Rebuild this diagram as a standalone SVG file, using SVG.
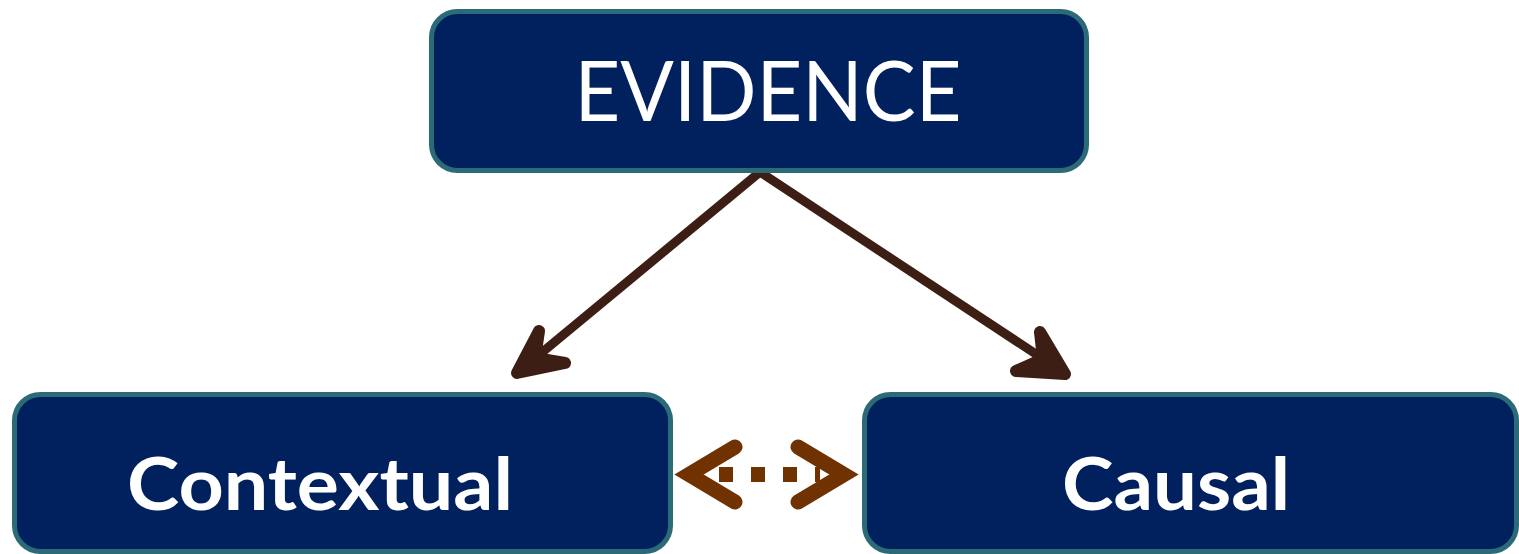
<svg xmlns="http://www.w3.org/2000/svg" width="1519" height="554" viewBox="0 0 1519 554">
<style>
.box{fill:#00205E;stroke:#2B6A77;stroke-width:5}
.lbl{fill:#FFFFFF;font-family:Lato,"Open Sans","Liberation Sans",sans-serif;text-anchor:middle}
.conn{fill:none;stroke:#3C1E15;stroke-width:9}
.head{fill:#3C1E15;stroke:#3C1E15;stroke-width:12;stroke-linejoin:round;stroke-linecap:round}
.dbl{fill:none;stroke:#6F3200;stroke-width:15;stroke-linecap:round;stroke-linejoin:miter;stroke-miterlimit:10}
</style>
<rect width="1519" height="554" fill="#FFFFFF"/>
<g id="connectors">
<line class="conn" x1="760" y1="172" x2="528" y2="364"/>
<path class="head" d="M517,373 L539,331 L535,358 L565,363 Z"/>
<line class="conn" x1="760" y1="172" x2="1054" y2="366"/>
<path class="head" d="M1065,374 L1016,371 L1043,359 L1040,332 Z"/>
<line x1="719" y1="474.5" x2="820" y2="474.5" stroke="#6F3200" stroke-width="15" stroke-dasharray="14 18"/>
<polyline class="dbl" points="735,447 689,474.5 735,502"/>
<polyline class="dbl" points="798,447 844,474.5 798,502"/>
</g>
<g id="evidence">
<rect class="box" x="431.5" y="11.5" width="655" height="159" rx="26"/>
<text class="lbl" x="768" y="121" font-size="84" textLength="387" lengthAdjust="spacingAndGlyphs">EVIDENCE</text>
</g>
<g id="contextual">
<rect class="box" x="14.5" y="394.5" width="656" height="157" rx="26"/>
<text class="lbl" x="320" y="510" font-size="73" font-weight="bold" textLength="386" lengthAdjust="spacingAndGlyphs">Contextual</text>
</g>
<g id="causal">
<rect class="box" x="864.5" y="394.5" width="652" height="157" rx="26"/>
<text class="lbl" x="1176" y="510" font-size="73" font-weight="bold" textLength="228" lengthAdjust="spacingAndGlyphs">Causal</text>
</g>
</svg>
